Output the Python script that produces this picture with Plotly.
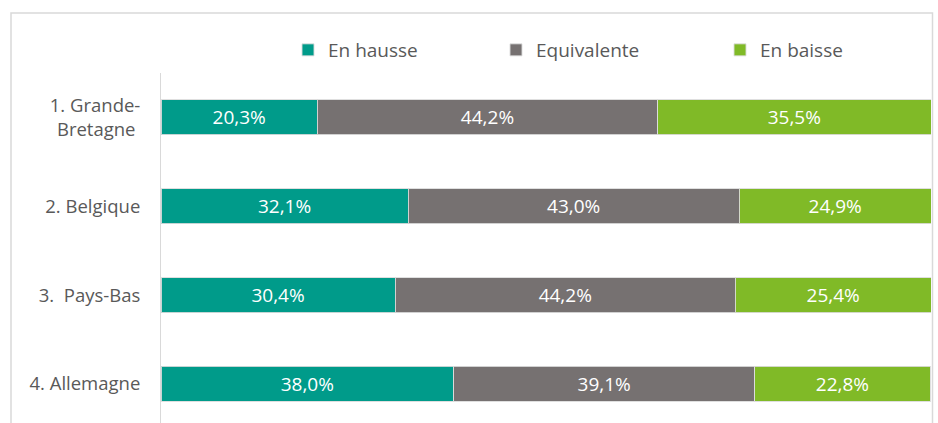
import plotly.graph_objects as go

categories = ["1. Grande-<br>Bretagne\u00a0", "2. Belgique", "3.\u00a0 Pays-Bas", "4. Allemagne"]
en_hausse = [20.3, 32.1, 30.4, 38.0]
equivalente = [44.2, 43.0, 44.2, 39.1]
en_baisse = [35.5, 24.9, 25.4, 22.8]

series = [
    ("En hausse", en_hausse, "#009B8A", "legend", 288),
    ("Equivalente", equivalente, "#767171", "legend2", 496),
    ("En baisse", en_baisse, "#80BA27", "legend3", 720),
]

W, H = 938, 423
fig = go.Figure()
for name, vals, color, leg, _ in series:
    fig.add_trace(go.Bar(
        y=categories, x=vals, name=name, orientation="h",
        marker=dict(color=color, line=dict(color="rgba(220,220,220,0.9)", width=1)),
        texttemplate="%{x:.1f}%", textposition="inside", insidetextanchor="middle",
        textfont=dict(color="white", size=19, family="Open Sans"),
        legend=leg, hoverinfo="skip", showlegend=True,
    ))

legend_common = dict(orientation="h", xref="container", yref="container",
                     yanchor="middle", xanchor="left", bgcolor="rgba(0,0,0,0)",
                     font=dict(size=19, family="Open Sans", color="#595959"))
layout_legends = {}
for name, vals, color, leg, xpx in series:
    layout_legends[leg] = dict(legend_common, x=xpx / W, y=1 - 50 / H, visible=True)

pl, pr = 161, 931
pw = pr - pl
ph = H - 73

def px_x(p):
    return (p - pl) / pw

def px_y(p):
    return (H - p) / ph

fig.update_layout(
    width=W, height=H, barmode="stack", bargap=0.606,
    separators=", ", showlegend=True,
    margin=dict(l=161, r=W - pr, t=73, b=0, pad=0),
    paper_bgcolor="white", plot_bgcolor="white",
    font=dict(family="Open Sans", size=18, color="#595959"),
    xaxis=dict(range=[0, 100], visible=False, fixedrange=True),
    yaxis=dict(range=[3.44, -0.5], showline=True, linecolor="#D9D9D9", linewidth=1,
               showgrid=False, zeroline=False, ticks="", ticklabelstandoff=16,
               tickfont=dict(size=18.5, family="Open Sans", color="#595959")),
    shapes=[dict(type="path", xref="paper", yref="paper",
                 path=f"M {px_x(11)},{px_y(440)} L {px_x(11)},{px_y(13)} L {px_x(932.5)},{px_y(13)} L {px_x(932.5)},{px_y(440)}",
                 line=dict(color="#D9D9D9", width=1.5), layer="above")],
    **layout_legends,
)

fig.write_html("out.html")
